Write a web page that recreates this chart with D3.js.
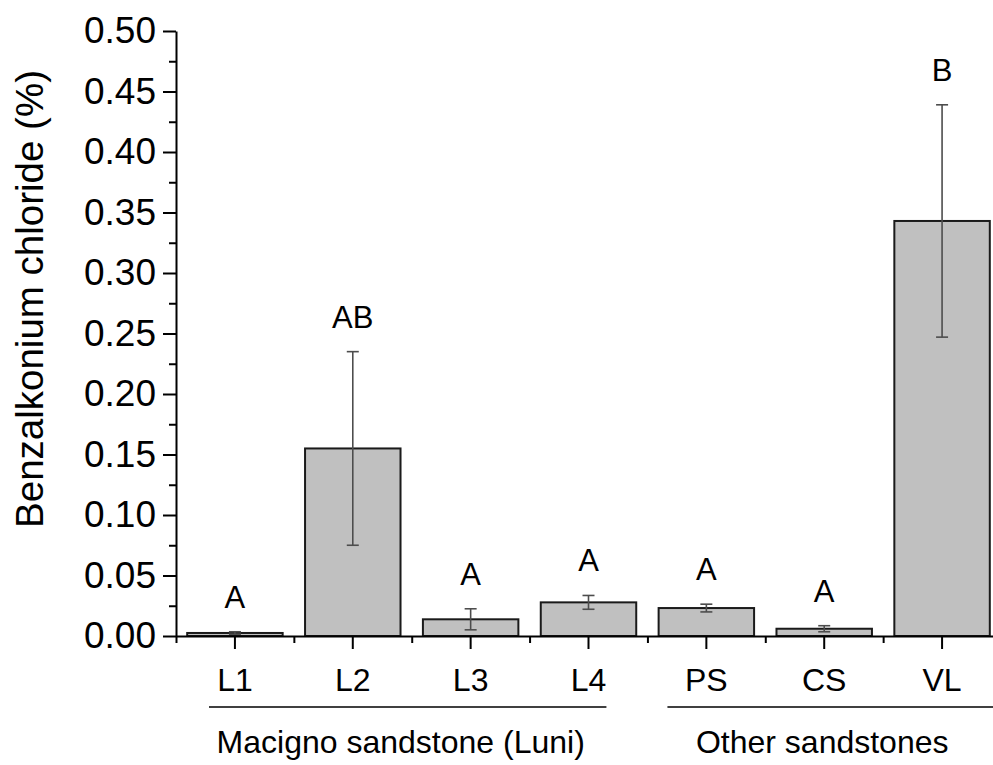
<!DOCTYPE html>
<html>
<head>
<meta charset="utf-8">
<script src="https://cdn.jsdelivr.net/npm/d3@7"></script>
<style>
  body { margin: 0; background: #fff; }
  svg { font-family: Arial, "Liberation Sans", sans-serif; }
</style>
</head>
<body>
<svg id="drawing_region"></svg>
<script>
// data
const categories = ['L1', 'L2', 'L3', 'L4', 'PS', 'CS', 'VL'];
const means      = [0.0025, 0.155, 0.0138, 0.0278, 0.0231, 0.0060, 0.343];
const errors     = [0.0010, 0.080, 0.0087, 0.0057, 0.0032, 0.0025, 0.096];
const letters    = ['A', 'AB', 'A', 'A', 'A', 'A', 'B'];
const groupNames = ['Macigno sandstone (Luni)', 'Other sandstones'];
const groupFirst = ['L1', 'PS'];
const groupLast  = ['L4', 'VL'];
const yTicks     = [0, 0.05, 0.10, 0.15, 0.20, 0.25, 0.30, 0.35, 0.40, 0.45, 0.50];
const yMinor     = [0.025, 0.075, 0.125, 0.175, 0.225, 0.275, 0.325, 0.375, 0.425, 0.475];

const config = {
    width: 993,
    height: 765,
    left: 176,
    right: 1001,   // axis runs past the right edge in the original
    top: 31,
    bottom: 636,
    ylabel: 'Benzalkonium chloride (%)'
};

const svg = d3.select('#drawing_region')
    .attr('width', config.width)
    .attr('height', config.height);

const xscale = d3.scaleBand()
    .domain(categories)
    .range([config.left, config.right])
    .paddingInner(0.19)
    .paddingOuter(0.095);

// index scale for the band edges (minor ticks, group lines)
const edge = d3.scaleLinear()
    .domain([0, categories.length])
    .range([config.left, config.right]);

const yscale = d3.scaleLinear()
    .domain([0, 0.5])
    .range([config.bottom, config.top]);

const data = categories.map((c, i) => ({ cat: c, mean: means[i], err: errors[i], letter: letters[i] }));

// bars
svg.append('g').selectAll('rect')
    .data(data)
    .enter()
    .append('rect')
    .attr('x', d => xscale(d.cat))
    .attr('y', d => yscale(d.mean))
    .attr('width', xscale.bandwidth())
    .attr('height', d => yscale(0) - yscale(d.mean))
    .attr('fill', '#c0c0c0')
    .attr('stroke', '#1a1a1a')
    .attr('stroke-width', 2);

// error bars
const cx = d => xscale(d.cat) + xscale.bandwidth() / 2;
const eb = svg.append('g')
    .attr('stroke', '#4d4d4d')
    .attr('stroke-width', 1.6);
eb.selectAll('.stem')
    .data(data).enter().append('line')
    .attr('x1', cx).attr('x2', cx)
    .attr('y1', d => yscale(d.mean + d.err))
    .attr('y2', d => yscale(Math.max(0, d.mean - d.err)));
eb.selectAll('.capTop')
    .data(data).enter().append('line')
    .attr('x1', d => cx(d) - 6).attr('x2', d => cx(d) + 6)
    .attr('y1', d => yscale(d.mean + d.err))
    .attr('y2', d => yscale(d.mean + d.err));
eb.selectAll('.capBot')
    .data(data).enter().append('line')
    .attr('x1', d => cx(d) - 6).attr('x2', d => cx(d) + 6)
    .attr('y1', d => yscale(Math.max(0, d.mean - d.err)))
    .attr('y2', d => yscale(Math.max(0, d.mean - d.err)));

// significance letters
svg.append('g').selectAll('text')
    .data(data).enter().append('text')
    .attr('x', cx)
    .attr('y', d => yscale(d.mean + d.err) - 24)
    .attr('text-anchor', 'middle')
    .style('font-size', '31px')
    .text(d => d.letter);

// x axis
const xaxis = d3.axisBottom(xscale)
    .tickSize(13)
    .tickSizeOuter(0)
    .tickPadding(19);
const xg = svg.append('g')
    .attr('transform', `translate(0, ${config.bottom})`)
    .call(xaxis);
xg.selectAll('text').style('font-size', '32px').attr('fill', '#000');

const xminor = d3.axisBottom(edge)
    .tickValues(d3.range(0, categories.length + 1))
    .tickSize(7)
    .tickSizeOuter(0)
    .tickFormat('');
svg.append('g')
    .attr('transform', `translate(0, ${config.bottom})`)
    .call(xminor)
    .select('.domain').remove();

// y axis
const yaxis = d3.axisLeft(yscale)
    .tickValues(yTicks)
    .tickFormat(d3.format('.2f'))
    .tickSize(13)
    .tickSizeOuter(0)
    .tickPadding(7);
const yg = svg.append('g')
    .attr('transform', `translate(${config.left}, 0)`)
    .call(yaxis);
yg.selectAll('text').style('font-size', '37px').attr('fill', '#000');

const yminor = d3.axisLeft(yscale)
    .tickValues(yMinor)
    .tickSize(7)
    .tickSizeOuter(0)
    .tickFormat('');
svg.append('g')
    .attr('transform', `translate(${config.left}, 0)`)
    .call(yminor)
    .select('.domain').remove();

svg.selectAll('.domain').attr('stroke', '#000').attr('stroke-width', 2);
svg.selectAll('.tick line').attr('stroke', '#000').attr('stroke-width', 2);

// y label
svg.append('text')
    .attr('transform', 'rotate(-90)')
    .attr('x', -299)
    .attr('y', 43)
    .attr('text-anchor', 'middle')
    .style('font-size', '38.5px')
    .text(config.ylabel);

// group brackets under the axis
const groupInset = [[33, -41], [20, 20]];
groupNames.forEach((g, i) => {
    const a = categories.indexOf(groupFirst[i]);
    const b = categories.indexOf(groupLast[i]) + 1;
    svg.append('line')
        .attr('x1', edge(a) + groupInset[i][0])
        .attr('x2', edge(b) + groupInset[i][1])
        .attr('y1', 707).attr('y2', 707)
        .attr('stroke', '#000')
        .attr('stroke-width', 1.5);
    svg.append('text')
        .attr('x', (edge(a) + edge(b)) / 2 + (i === 0 ? -11 : -2))
        .attr('y', 753)
        .attr('text-anchor', 'middle')
        .style('font-size', '32px')
        .text(g);
});
</script>
</body>
</html>
